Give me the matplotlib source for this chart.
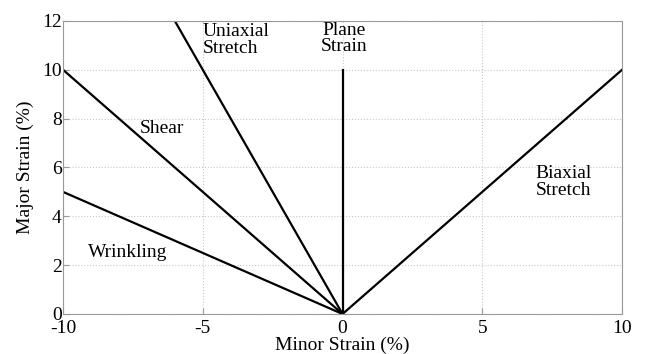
import numpy as np
import matplotlib.pyplot as plt

plt.rcParams['font.family'] = ['Liberation Serif', 'DejaVu Serif']
plt.rcParams['axes.unicode_minus'] = False

# strain paths from the origin: (minor end, major end)
path_names = ['Wrinkling', 'Shear', 'Uniaxial Stretch', 'Plane Strain', 'Biaxial Stretch']
minor_end = [-10, -10, -6, 0, 10]
major_end = [5, 10, 12, 10, 10]

# label text and its anchor (data coords)
labels = ['Wrinkling', 'Shear', 'Uniaxial\nStretch', 'Plane\nStrain', 'Biaxial\nStretch']
label_x = [-9.1, -7.25, -5.0, 0.05, 6.9]
label_y = [2.5, 7.6, 11.9, 11.95, 5.4]
label_ha = ['left', 'left', 'left', 'center', 'left']
label_va = ['center', 'center', 'top', 'top', 'center']

fig = plt.figure(figsize=(6.46, 3.54), dpi=100)
ax = fig.add_axes([0.0975, 0.113, 0.8655, 0.828])

for x1, y1 in zip(minor_end, major_end):
    ax.plot([0, x1], [0, y1], 'k', lw=1.6)

for t, x, y, ha, va in zip(labels, label_x, label_y, label_ha, label_va):
    ax.text(x, y, t, ha=ha, va=va, fontsize=14, linespacing=0.95)

ax.set_xlim(-10, 10)
ax.set_ylim(0, 12)
ax.set_xticks([-10, -5, 0, 5, 10])
ax.set_yticks([0, 2, 4, 6, 8, 10, 12])
ax.grid(True, color='#c8c8c8', linestyle=':', lw=0.8)
ax.tick_params(direction='in', labelsize=14, color='#999999', length=4)
ax.tick_params(axis='x', pad=4)
ax.tick_params(axis='y', pad=1)
for s in ax.spines.values():
    s.set_color('#999999')
ax.set_xlabel('Minor Strain (%)', fontsize=14, labelpad=0)
ax.set_ylabel('Major Strain (%)', fontsize=14, labelpad=6)

plt.savefig('out.png', dpi=100)
